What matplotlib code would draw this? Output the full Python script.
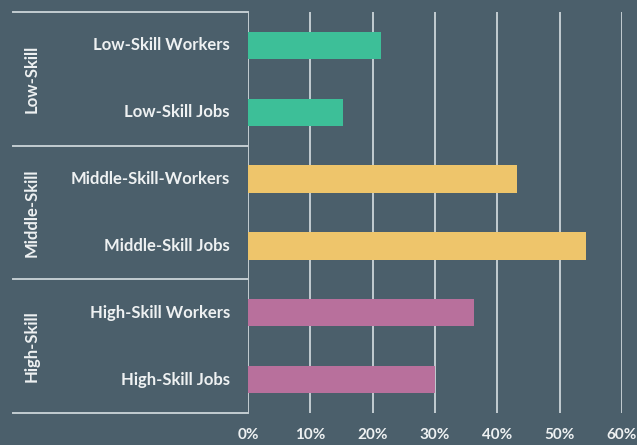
import matplotlib.pyplot as plt
from matplotlib.transforms import blended_transform_factory

# --- data ---
categories = ["Low-Skill Workers", "Low-Skill Jobs",
              "Middle-Skill-Workers", "Middle-Skill Jobs",
              "High-Skill Workers", "High-Skill Jobs"]
values = [21.3, 15.2, 43.2, 54.3, 36.3, 30.0]
groups = ["Low-Skill", "Middle-Skill", "High-Skill"]
group_colors = ["#3dbf98", "#eec56b", "#b8709c"]
xticks = [0, 10, 20, 30, 40, 50, 60]
xtick_labels = ["0%", "10%", "20%", "30%", "40%", "50%", "60%"]

BG = "#4b5f6b"
LINE = "#c3ccd1"
TXT = "#eef1f2"
plt.rcParams["font.family"] = ["Lato", "DejaVu Sans"]

fig = plt.figure(figsize=(6.37, 4.45), dpi=100, facecolor=BG)
ax = fig.add_axes([248 / 637, 1 - 413 / 445, 374 / 637, 401 / 445])
ax.set_facecolor(BG)

ypos = list(range(len(categories)))
colors = [group_colors[i // 2] for i in ypos]

# gridlines
for x in xticks:
    ax.axvline(x, color=LINE, lw=1.4, zorder=1)

ax.barh(ypos, values, height=0.41, color=colors, zorder=2)

ax.set_xlim(0, 60)
ax.set_ylim(5.5, -0.5)
for s in ax.spines.values():
    s.set_visible(False)
ax.set_yticks([])
ax.set_xticks(xticks)
ax.set_xticklabels(xtick_labels, color=TXT, fontsize=11, fontweight="bold")
ax.tick_params(axis="x", length=0, pad=11)

# left category panel
tr = blended_transform_factory(ax.transAxes, ax.transData)
left = (13 - 248) / 374
for yb in [-0.5, 1.5, 3.5, 5.5]:
    ax.plot([left, 0], [yb, yb], color=LINE, lw=1.4, transform=tr,
            clip_on=False, zorder=3)

for i, cat in enumerate(categories):
    ax.text(-18 / 374, i, cat, transform=tr, ha="right", va="center",
            color=TXT, fontsize=12, fontweight="bold")

for g, name in enumerate(groups):
    ax.text((32 - 248) / 374, 2 * g + 0.5, name, transform=tr, rotation=90,
            ha="center", va="center", color=TXT, fontsize=12, fontweight="bold")

fig.savefig("out.png", dpi=100, facecolor=BG)
